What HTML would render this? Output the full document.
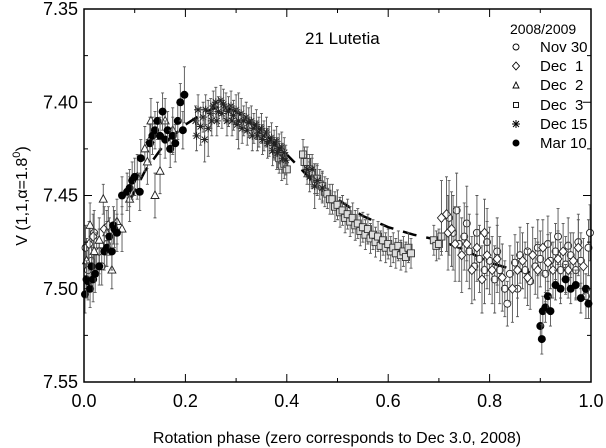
<!DOCTYPE html>
<html><head><meta charset="utf-8"><style>
html,body{margin:0;padding:0;background:#fff;}
svg{display:block;font-family:"Liberation Sans",Arial,sans-serif;}
</style></head><body>
<svg id="chart" width="606" height="448" viewBox="0 0 606 448">
<g id="marks"></g>
<g id="axes"></g>
</svg>
<script>
// phase, magnitude, error
const nov30 = [[0.003,7.478,.012],[0.008,7.49,.012],[0.015,7.485,.012],[0.02,7.47,.012],[0.025,7.48,.01],[0.035,7.488,.01],[0.045,7.476,.012],[0.72,7.462,.02],[0.728,7.47,.02],[0.735,7.458,.02],[0.74,7.476,.02],[0.75,7.472,.018],[0.755,7.465,.02],[0.76,7.48,.02],[0.77,7.488,.018],[0.775,7.47,.02],[0.78,7.484,.018],[0.79,7.49,.018],[0.795,7.475,.018],[0.80,7.485,.018],[0.81,7.495,.018],[0.815,7.48,.018],[0.82,7.49,.018],[0.83,7.5,.015],[0.835,7.508,.012],[0.84,7.492,.015],[0.85,7.486,.015],[0.855,7.5,.015],[0.86,7.482,.015],[0.87,7.49,.015],[0.875,7.48,.015],[0.88,7.496,.015],[0.89,7.488,.015],[0.895,7.478,.015],[0.90,7.484,.015],[0.91,7.492,.015],[0.915,7.476,.015],[0.92,7.485,.015],[0.93,7.48,.015],[0.935,7.472,.015],[0.94,7.49,.015],[0.95,7.487,.015],[0.955,7.477,.015],[0.96,7.482,.012],[0.97,7.49,.015],[0.975,7.475,.015],[0.98,7.485,.015],[0.99,7.504,.012],[0.995,7.478,.015],[0.998,7.47,.015]];
const dec1 = [[0.01,7.476,.012],[0.018,7.472,.012],[0.03,7.48,.012],[0.04,7.468,.012],[0.048,7.466,.01],[0.705,7.462,.02],[0.715,7.46,.02],[0.718,7.47,.02],[0.725,7.468,.02],[0.732,7.476,.02],[0.745,7.482,.02],[0.755,7.476,.02],[0.765,7.49,.018],[0.775,7.478,.018],[0.785,7.495,.018],[0.79,7.47,.018],[0.795,7.482,.018],[0.805,7.49,.018],[0.815,7.484,.018],[0.825,7.494,.018],[0.845,7.5,.018],[0.855,7.49,.015],[0.865,7.485,.015],[0.875,7.494,.015],[0.885,7.482,.015],[0.895,7.49,.015],[0.905,7.478,.015],[0.915,7.486,.015],[0.925,7.49,.015],[0.935,7.484,.015],[0.945,7.48,.015],[0.955,7.49,.015],[0.965,7.485,.015],[0.975,7.478,.015],[0.985,7.488,.015]];
const dec2 = [[0.005,7.485,.012],[0.012,7.466,.012],[0.02,7.48,.012],[0.03,7.474,.012],[0.038,7.452,.008],[0.045,7.47,.012],[0.055,7.49,.01],[0.065,7.464,.012],[0.075,7.468,.012],[0.09,7.452,.012],[0.105,7.44,.012],[0.12,7.425,.012],[0.125,7.432,.012],[0.13,7.42,.012],[0.14,7.45,.012],[0.15,7.437,.012],[0.132,7.41,.012],[0.16,7.41,.012],[0.175,7.415,.012]];
const dec3 = [[0.38,7.428,.008],[0.385,7.43,.008],[0.39,7.434,.008],[0.395,7.433,.008],[0.40,7.436,.008],[0.432,7.428,.008],[0.435,7.432,.008],[0.44,7.432,.008],[0.445,7.436,.008],[0.45,7.438,.008],[0.455,7.441,.008],[0.46,7.441,.008],[0.465,7.444,.008],[0.47,7.445,.008],[0.475,7.448,.008],[0.48,7.449,.008],[0.485,7.452,.008],[0.49,7.452,.008],[0.495,7.456,.008],[0.50,7.455,.008],[0.505,7.459,.008],[0.51,7.458,.008],[0.515,7.462,.008],[0.52,7.46,.008],[0.525,7.464,.008],[0.53,7.462,.008],[0.535,7.466,.008],[0.54,7.465,.008],[0.545,7.469,.008],[0.55,7.467,.008],[0.555,7.471,.008],[0.56,7.468,.008],[0.565,7.473,.008],[0.57,7.471,.008],[0.575,7.475,.008],[0.58,7.472,.008],[0.585,7.477,.008],[0.59,7.474,.008],[0.595,7.478,.008],[0.60,7.476,.008],[0.605,7.48,.008],[0.61,7.478,.008],[0.615,7.481,.008],[0.62,7.477,.008],[0.625,7.482,.008],[0.63,7.48,.008],[0.635,7.483,.008],[0.64,7.478,.008],[0.645,7.481,.008],[0.69,7.474,.008],[0.695,7.477,.008],[0.70,7.476,.008],[0.705,7.472,.008]];
const dec15 = [[0.22,7.41,.008],[0.222,7.418,.008],[0.225,7.404,.008],[0.23,7.413,.01],[0.235,7.408,.008],[0.238,7.42,.012],[0.24,7.404,.008],[0.245,7.414,.015],[0.25,7.406,.008],[0.252,7.41,.008],[0.255,7.402,.008],[0.26,7.4,.008],[0.262,7.41,.008],[0.265,7.405,.008],[0.27,7.399,.008],[0.272,7.406,.008],[0.275,7.401,.008],[0.28,7.403,.008],[0.282,7.41,.008],[0.285,7.405,.008],[0.29,7.402,.008],[0.292,7.41,.008],[0.295,7.407,.008],[0.30,7.404,.008],[0.302,7.412,.008],[0.305,7.41,.015],[0.31,7.406,.008],[0.312,7.414,.008],[0.315,7.41,.008],[0.32,7.408,.008],[0.322,7.415,.008],[0.325,7.411,.008],[0.33,7.41,.008],[0.332,7.418,.008],[0.335,7.414,.008],[0.34,7.412,.008],[0.342,7.418,.008],[0.345,7.416,.008],[0.35,7.414,.008],[0.352,7.42,.008],[0.355,7.418,.008],[0.36,7.416,.008],[0.362,7.422,.008],[0.365,7.421,.008],[0.37,7.419,.008],[0.372,7.426,.008],[0.375,7.423,.008],[0.38,7.421,.008],[0.382,7.427,.008],[0.385,7.425,.008],[0.39,7.424,.008],[0.392,7.43,.008],[0.395,7.427,.008],[0.398,7.431,.008],[0.44,7.436,.008],[0.445,7.44,.008],[0.45,7.436,.008],[0.455,7.445,.012],[0.46,7.442,.008],[0.47,7.446,.008]];
const mar10 = [[0.002,7.503,.01],[0.005,7.495,.01],[0.008,7.496,.01],[0.012,7.5,.01],[0.015,7.488,.01],[0.018,7.495,.012],[0.022,7.492,.01],[0.03,7.488,.01],[0.04,7.48,.01],[0.045,7.478,.01],[0.05,7.472,.01],[0.055,7.48,.01],[0.058,7.466,.01],[0.06,7.468,.01],[0.065,7.47,.01],[0.075,7.45,.01],[0.085,7.448,.01],[0.09,7.446,.01],[0.095,7.442,.01],[0.1,7.44,.01],[0.11,7.448,.01],[0.112,7.43,.01],[0.13,7.422,.01],[0.135,7.418,.01],[0.14,7.415,.01],[0.145,7.41,.01],[0.15,7.418,.01],[0.155,7.405,.01],[0.16,7.42,.01],[0.165,7.415,.01],[0.17,7.425,.01],[0.175,7.418,.01],[0.18,7.422,.01],[0.185,7.41,.01],[0.19,7.4,.01],[0.195,7.415,.01],[0.198,7.396,.015],[0.9,7.52,.008],[0.903,7.527,.008],[0.905,7.512,.008],[0.91,7.51,.008],[0.915,7.504,.008],[0.92,7.512,.008],[0.93,7.498,.008],[0.94,7.5,.008],[0.95,7.495,.008],[0.96,7.5,.008],[0.97,7.498,.008],[0.98,7.505,.008],[0.99,7.5,.008],[0.995,7.508,.008]];
const fitPhase = [0.09,0.12,0.16,0.2,0.24,0.27,0.3,0.34,0.4,0.45,0.5,0.55,0.6,0.65,0.7,0.75,0.8,0.85,0.9];
const fitMag = [7.453,7.437,7.422,7.412,7.405,7.402,7.405,7.413,7.428,7.442,7.452,7.461,7.467,7.471,7.474,7.479,7.486,7.49,7.492];
const xTicks = [0,0.2,0.4,0.6,0.8,1.0];
const xTickLabels = ["0.0","0.2","0.4","0.6","0.8","1.0"];
const yTicks = [7.35,7.40,7.45,7.50,7.55];
const yTickLabels = ["7.35","7.40","7.45","7.50","7.55"];

const L=84,R=591,T=9,B=382;
const xs=v=>L+(v-0)/(1-0)*(R-L);
const ys=v=>T+(v-7.35)/(7.55-7.35)*(B-T);
const NS='http://www.w3.org/2000/svg';
const marks=document.getElementById('marks'), axes=document.getElementById('axes');
function mk(tag,attrs,parent){const e=document.createElementNS(NS,tag);for(const k in attrs)e.setAttribute(k,attrs[k]);parent.appendChild(e);return e;}

let fd='';fitPhase.forEach((p,i)=>{fd+=(i?'L':'M')+xs(p)+' '+ys(fitMag[i]);});
const fit=mk('path',{d:fd,stroke:'#000','stroke-width':2.5,fill:'none','stroke-dasharray':'14 10'},marks);



function marker(type,x,y,g){
  let e;
  if(type==='circle'){e=mk('circle',{cx:x,cy:y,r:3.5,fill:'#fff',stroke:'#222','stroke-width':0.9},g);}
  else if(type==='diamond'){e=mk('path',{d:`M${x} ${y-4.5}L${x+4} ${y}L${x} ${y+4.5}L${x-4} ${y}Z`,fill:'#fff',stroke:'#222','stroke-width':0.9},g);}
  else if(type==='triangle'){e=mk('path',{d:`M${x} ${y-4.5}L${x+4} ${y+3}L${x-4} ${y+3}Z`,fill:'#fff',stroke:'#222','stroke-width':0.9},g);}
  else if(type==='square'){e=mk('rect',{x:x-3.5,y:y-3.5,width:7,height:7,fill:'#ddd',stroke:'#333','stroke-width':0.9},g);}
  else if(type==='star'){e=mk('path',{d:`M${x-4} ${y}H${x+4}M${x-3} ${y-3}L${x+3} ${y+3}M${x-3} ${y+3}L${x+3} ${y-3}M${x} ${y-4}V${y+4}`,stroke:'#222','stroke-width':1,fill:'none'},g);}
  else {e=mk('circle',{cx:x,cy:y,r:4,fill:'#000'},g);}
  return e;
}
function drawSeries(data,type,name){
  const g=mk('g',{},marks);
  
  
  data.forEach(d=>{
    const x=xs(d[0]),y=ys(d[1]),y1=ys(d[1]-d[2]),y2=ys(d[1]+d[2]);
    mk('path',{d:`M${x} ${y1}V${y2}M${x-1.5} ${y1}H${x+1.5}M${x-1.5} ${y2}H${x+1.5}`,stroke:'#555','stroke-width':0.9,fill:'none'},g);
    const m=marker(type,x,y,g);
    
    
  });
}
drawSeries(dec3,'square','dec3');
drawSeries(dec15,'star','dec15');
drawSeries(nov30,'circle','nov30');
drawSeries(dec1,'diamond','dec1');
drawSeries(dec2,'triangle','dec2');
drawSeries(mar10,'filled','mar10');

const fr=mk('rect',{x:L,y:T,width:R-L,height:B-T,fill:'none',stroke:'#000','stroke-width':1.5},axes);


for(let i=0;i<=10;i++){const v=i/10,x=xs(v),len=i%2?4:8;
  mk('line',{x1:x,x2:x,y1:B,y2:B-len,stroke:'#000','stroke-width':1},axes);
  mk('line',{x1:x,x2:x,y1:T,y2:T+len,stroke:'#000','stroke-width':1},axes);}
for(let i=0;i<=8;i++){const v=7.35+i*0.025,y=ys(v),len=i%2?4:8;
  mk('line',{x1:L,x2:L+len,y1:y,y2:y,stroke:'#000','stroke-width':1},axes);
  mk('line',{x1:R,x2:R-len,y1:y,y2:y,stroke:'#000','stroke-width':1},axes);}
xTicks.forEach((v,i)=>{const t=mk('text',{x:xs(v),y:B+25,'font-size':18,'text-anchor':'middle'},axes);t.textContent=xTickLabels[i];
  
  });
yTicks.forEach((v,i)=>{const t=mk('text',{x:L-6,y:ys(v)+6,'font-size':18,'text-anchor':'end'},axes);t.textContent=yTickLabels[i];
  
  });
</script>
<svg width="606" height="448" style="position:absolute;left:0;top:0">
<text x="305" y="44" font-size="17" font-family="Liberation Sans,sans-serif">21 Lutetia</text>
<text x="337" y="443" font-size="16" text-anchor="middle" font-family="Liberation Sans,sans-serif">Rotation phase (zero corresponds to Dec 3.0, 2008)</text>
<text transform="translate(27,196) rotate(-90)" font-size="16" text-anchor="middle" font-family="Liberation Sans,sans-serif">V (1,1,α=1.8<tspan dy="-7" font-size="11">0</tspan><tspan dy="7">)</tspan></text>
<g font-family="Liberation Sans,sans-serif" font-size="15">
<text x="510" y="34" font-size="14">2008/2009</text>
<g><circle cx="516" cy="47" r="3" fill="#fff" stroke="#000" stroke-width="0.9"/><text x="540" y="52">Nov 30</text></g>
<g><path d="M516 62L519.5 66L516 70L512.5 66Z" fill="#fff" stroke="#000" stroke-width="0.9"/><text x="540" y="71" xml:space="preserve">Dec  1</text></g>
<g><path d="M516 82L519 88L513 88Z" fill="#fff" stroke="#000" stroke-width="0.9"/><text x="540" y="90" xml:space="preserve">Dec  2</text></g>
<g><rect x="513.5" y="102.5" width="5" height="5" fill="#fff" stroke="#000" stroke-width="0.9"/><text x="540" y="110" xml:space="preserve">Dec  3</text></g>
<g><path d="M512 124H520M513 121L519 127M513 127L519 121M516 120V128" stroke="#000" fill="none"/><text x="540" y="129">Dec 15</text></g>
<g><circle cx="516" cy="143" r="3.5" fill="#000"/><text x="540" y="148">Mar 10</text></g>
</g>
</svg>
</body></html>
